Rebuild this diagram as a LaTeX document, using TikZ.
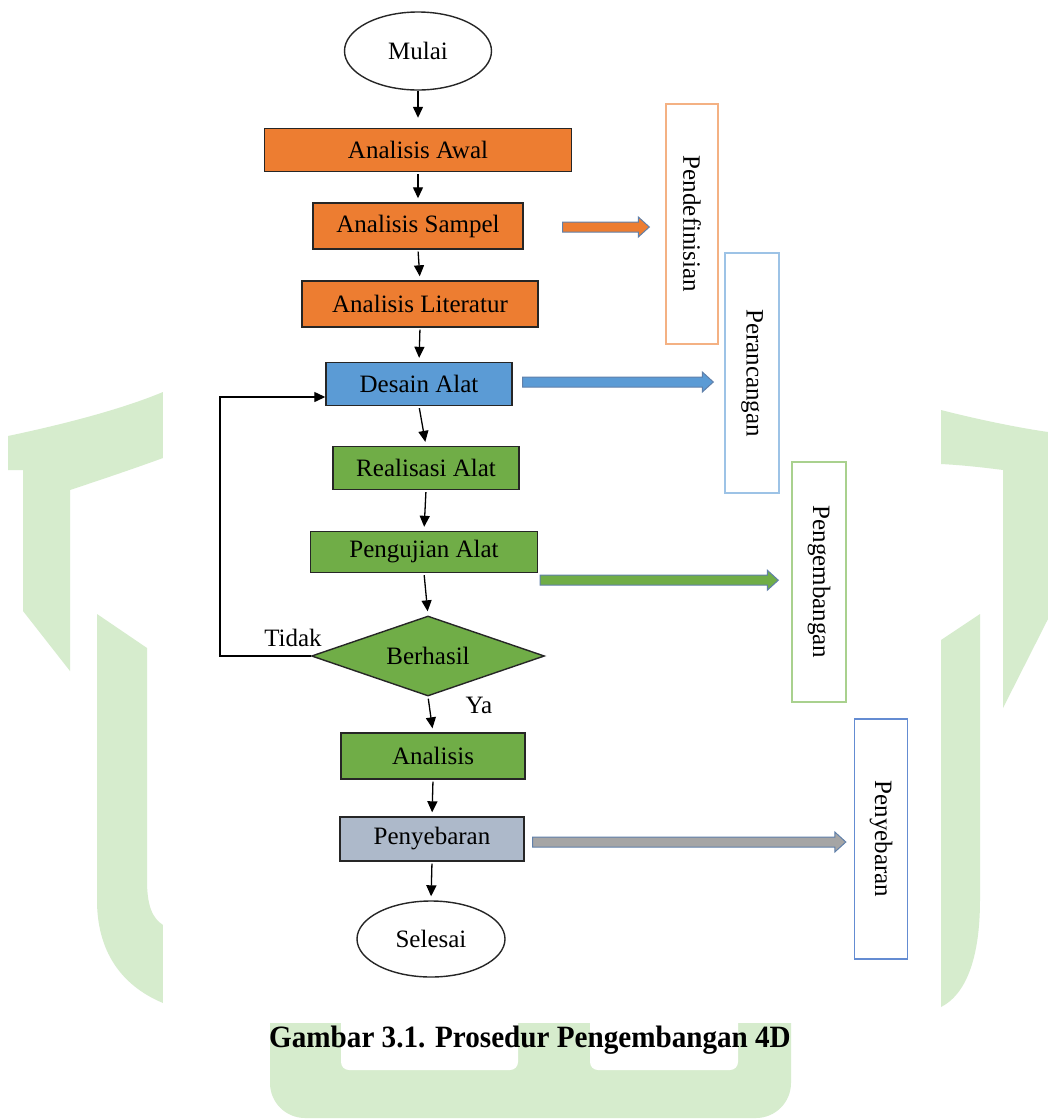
\documentclass[tikz,border=0pt]{standalone}
\usepackage{fontspec}
\setmainfont{Liberation Serif}
\newfontfamily\capfont[FakeStretch=0.94]{Liberation Serif}
\usetikzlibrary{shapes.geometric,arrows.meta,calc}

\definecolor{oranye}{RGB}{237,125,49}
\definecolor{biru}{RGB}{91,155,213}
\definecolor{hijau}{RGB}{112,173,71}
\definecolor{abu}{RGB}{173,185,202}
\definecolor{abupanah}{RGB}{165,165,165}
\definecolor{garispanah}{RGB}{96,128,170}
\definecolor{wm}{RGB}{214,236,205}
\definecolor{tepioranye}{RGB}{244,177,131}
\definecolor{tepibiru}{RGB}{157,195,230}
\definecolor{tepihijau}{RGB}{169,209,142}
\definecolor{tepinila}{RGB}{100,140,210}

\tikzset{
  kotak/.style={draw=black!85, line width=1.4pt, inner sep=0pt, font=\fontsize{25}{30}\selectfont},
  ujung/.style={rectangle, draw, line width=1.4pt, fill=white, rotate=-90, inner sep=0pt, font=\fontsize{25}{30}\selectfont},
  teks/.style={inner sep=0pt, font=\fontsize{25}{30}\selectfont},
  panah/.style={-{Triangle[length=11pt,width=10pt]}, line width=1.3pt},
}

\newcommand{\panahblok}[4]{%
  \filldraw[fill=#3, draw=#4, line width=1pt, line join=miter]
    ($(#1)+(0,-5)$) -- ($(#2)+(-11,-5)$) -- ($(#2)+(-11,-10)$) -- (#2)
    -- ($(#2)+(-11,10)$) -- ($(#2)+(-11,5)$) -- ($(#1)+(0,5)$) -- cycle;}

\begin{document}
\begin{tikzpicture}[x=1pt, y=-1pt]
 \useasboundingbox[fill=white] (0,0) rectangle (1048,1120);

 %watermark
 \fill[wm] (8,436) .. controls (60,425) and (120,410) .. (163,392) -- (163,458)
   .. controls (130,470) and (100,480) .. (70,490) -- (70,671) -- (23,611) -- (23,470) -- (8,470) -- cycle;
 \fill[wm] (97,614) -- (147,648) -- (147,880) .. controls (147,905) and (152,918) .. (163,925)
   -- (163,1003) .. controls (120,985) and (97,950) .. (97,900) -- cycle;
 \fill[wm] (941,410) .. controls (980,420) and (1020,428) .. (1048,432) -- (1048,619) -- (1003,708)
   -- (1003,470) .. controls (980,467) and (960,465) .. (941,464) -- cycle;
 \fill[wm] (941,640) -- (980,614) -- (980,900) .. controls (980,960) and (965,995) .. (941,1007) -- cycle;
 \fill[wm, rounded corners=35] (270,960) -- (270,1118) -- (791,1118) -- (791,960) -- cycle;
 \fill[white, rounded corners=8] (341,1000) -- (341,1070) -- (518,1070) -- (518,1000) -- cycle;
 \fill[white, rounded corners=8] (590,1000) -- (590,1070) -- (738,1070) -- (738,1000) -- cycle;
 \fill[white] (163,0) rectangle (941,1023);

 %flow
 \node[kotak, ellipse, fill=white, minimum width=147pt, minimum height=78pt] (mulai) at (418,51) {Mulai};
 \foreach \nm/\x/\y/\w/\h/\col/\txt in {
     awal/418/150/307/43/oranye/Analisis Awal,
     sampel/418/226/210/46/oranye/Analisis Sampel,
     lit/420/304/236/46/oranye/Analisis Literatur,
     desain/419/384/186/43/biru/Desain Alat,
     real/426/468/186/43/hijau/Realisasi Alat,
     uji/424/552/227/41/hijau/Pengujian Alat,
     analisis/433/756/184/46/hijau/Analisis,
     sebar/432/839/184/44/abu/Penyebaran} {
   \node[kotak, fill=\col, minimum width=\w pt, minimum height=\h pt] (\nm) at (\x,\y) {\txt};
 }
 \node[kotak, diamond, aspect=2.9, fill=hijau, minimum width=233pt, minimum height=80pt] (cek) at (428,656) {Berhasil};
 \node[kotak, ellipse, fill=white, minimum width=148pt, minimum height=76pt] (selesai) at (431,939) {Selesai};

 \draw[panah, shorten >=10pt] (mulai.south) -- (awal.north);
 \foreach \a/\b in {awal/sampel, sampel/lit, lit/desain, desain/real, real/uji, uji/cek, cek/analisis, analisis/sebar, sebar/selesai} {
   \draw[panah, shorten <=2pt, shorten >=4pt] (\a.south) -- (\b.north);
 }

 %loop
 \coordinate (belok) at (220,397);
 \draw[panah] (cek.west) -| (belok) -- (belok -| desain.west);
 \node[teks] (tidak) at (293,638) {Tidak};
 \node[teks] (ya) at (479,705) {Ya};

 %tahap 4D
 \foreach \nm/\x/\y/\h/\col/\txt in {
     pend/692/224/52/tepioranye/Pendefinisian,
     peran/752/373/54/tepibiru/Perancangan,
     kembang/819/582/54/tepihijau/Pengembangan,
     sebarbox/881/839/53/tepinila/Penyebaran} {
   \node[ujung, draw=\col, minimum width=240pt, minimum height=\h pt] (\nm) at (\x,\y) {\txt};
 }

 \coordinate (pa1) at ($(sampel.east)+(39,1)$);
 \coordinate (pa2) at ($(pa1 -| pend.south)+(-16,0)$);
 \coordinate (pb1) at ($(desain.east)+(10,-2)$);
 \coordinate (pb2) at ($(pb1 -| peran.south)+(-11,0)$);
 \coordinate (pc1) at ($(uji.south east)+(2,7)$);
 \coordinate (pc2) at ($(pc1 -| kembang.south)+(-13,0)$);
 \coordinate (pd1) at ($(sebar.east)+(8,3)$);
 \coordinate (pd2) at ($(pd1 -| sebarbox.south)+(-8,0)$);
 \foreach \a/\b/\c in {pa1/pa2/oranye, pb1/pb2/biru, pc1/pc2/hijau, pd1/pd2/abupanah} {
   \panahblok{\a}{\b}{\c}{garispanah}
 }

 \node[font=\capfont\bfseries\fontsize{31}{36}\selectfont, inner sep=0pt] (judul) at (530,1040) {Gambar 3.1. Prosedur Pengembangan 4D};
\end{tikzpicture}
\end{document}
